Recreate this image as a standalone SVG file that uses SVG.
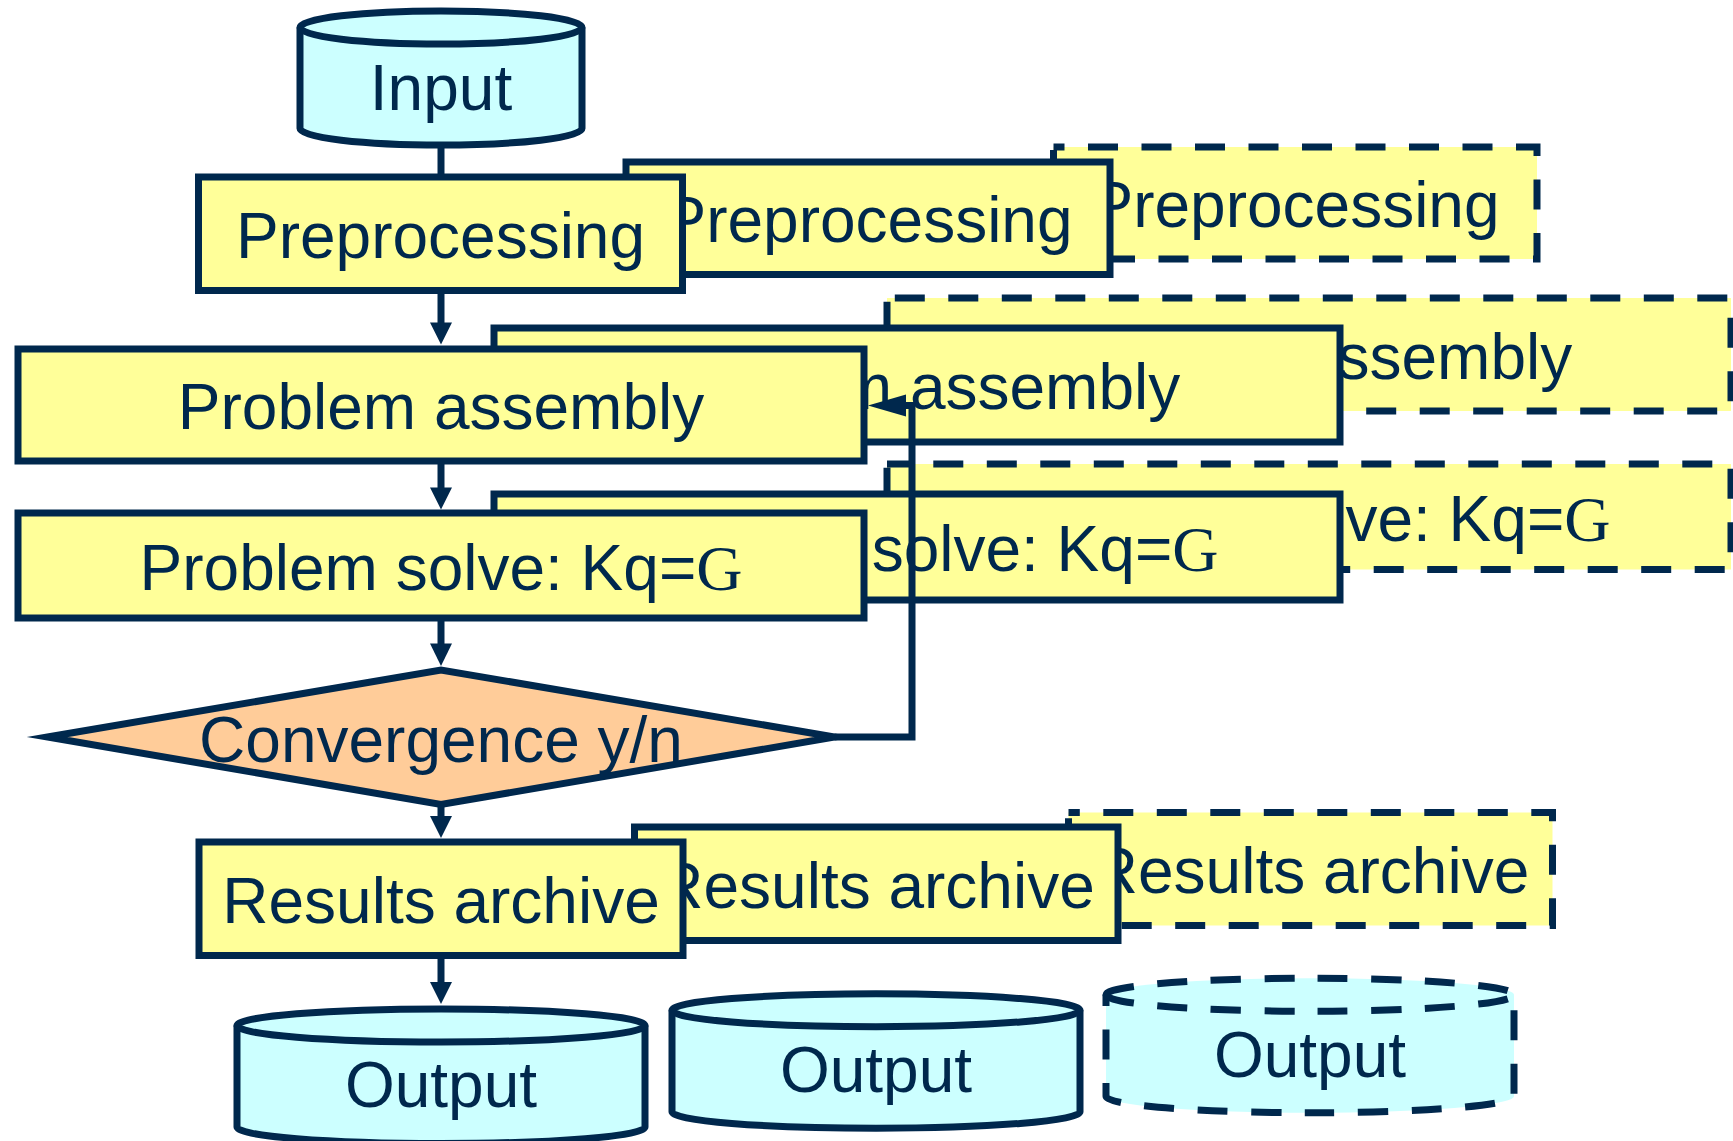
<svg xmlns="http://www.w3.org/2000/svg" width="1733" height="1141" viewBox="0 0 1733 1141">
<style>
.box{fill:#FFFF99;stroke:#00284D;stroke-width:7}
.cyl{fill:#CCFFFF;stroke:#00284D;stroke-width:7}
.arc{fill:none;stroke:#00284D;stroke-width:7}
.dia{fill:#FFCC99;stroke:#00284D;stroke-width:7;stroke-miterlimit:12}
.dash{stroke-dasharray:30 23.5}
.t{font-family:"Liberation Sans",Arial,sans-serif;font-size:64px;fill:#00284D;text-anchor:middle}
.g{font-family:"Liberation Serif","Times New Roman",serif}
.ln{fill:none;stroke:#00284D;stroke-width:7}
.ah{fill:#00284D}
</style>
<rect width="1733" height="1141" fill="#FFFFFF"/>
<g id="input">
<path class="cyl" d="M300,27.5 A141,16.5 0 0 1 582,27.5 V128.5 A141,16.5 0 0 1 300,128.5 Z"/>
<path class="arc" d="M300,27.5 A141,16.5 0 0 0 582,27.5"/>
<text class="t" x="441" y="109.5">Input</text>
</g>
<g id="preprocessing-3">
<rect class="box dash" style="stroke-dashoffset:19" x="1053.5" y="147" width="483.5" height="112"/>
<text class="t" x="1295" y="227">Preprocessing</text>
</g>
<g id="preprocessing-2">
<rect class="box" x="626" y="162" width="484" height="112.5"/>
<text class="t" x="868" y="242">Preprocessing</text>
</g>
<g id="preprocessing">
<rect class="box" x="198.5" y="177" width="484" height="113.5"/>
<text class="t" x="440.5" y="258">Preprocessing</text>
</g>
<g id="assembly-3">
<rect class="box dash" style="stroke-dashoffset:45.7" x="887" y="298" width="844" height="113"/>
<text class="t" x="1309" y="378.5">Problem assembly</text>
</g>
<g id="assembly-2">
<rect class="box" x="494" y="328" width="846" height="114"/>
<text class="t" x="917" y="409">Problem assembly</text>
</g>
<g id="assembly">
<rect class="box" x="18" y="349" width="846" height="112"/>
<text class="t" x="441" y="429">Problem assembly</text>
</g>
<g id="solve-3">
<rect class="box dash" style="stroke-dashoffset:7.2" x="887" y="464" width="844" height="105.5"/>
<text class="t" x="1309" y="540.5">Problem solve: Kq=<tspan class="g">G</tspan></text>
</g>
<g id="solve-2">
<rect class="box" x="494" y="494" width="846" height="106"/>
<text class="t" x="917" y="571">Problem solve: Kq=<tspan class="g">G</tspan></text>
</g>
<g id="solve">
<rect class="box" x="18" y="513" width="846" height="105"/>
<text class="t" x="441" y="589.5">Problem solve: Kq=<tspan class="g">G</tspan></text>
</g>
<g id="convergence">
<polygon class="dia" points="47.5,737 441,670 834.5,737 441,804.5"/>
<text class="t" x="441" y="762">Convergence y/n</text>
</g>
<g id="results-3">
<rect class="box dash" style="stroke-dashoffset:18.7" x="1068.5" y="812.5" width="484" height="113"/>
<text class="t" x="1310.5" y="892.5">Results archive</text>
</g>
<g id="results-2">
<rect class="box" x="634.5" y="827" width="483.5" height="113.5"/>
<text class="t" x="876" y="907.5">Results archive</text>
</g>
<g id="results">
<rect class="box" x="199" y="842" width="484" height="113.5"/>
<text class="t" x="441" y="923">Results archive</text>
</g>
<g id="output">
<path class="cyl" d="M237,1025.5 A204,16.5 0 0 1 645,1025.5 V1127 A204,16.5 0 0 1 237,1127 Z"/>
<path class="arc" d="M237,1025.5 A204,16.5 0 0 0 645,1025.5"/>
<text class="t" x="441" y="1106.5">Output</text>
</g>
<g id="output-2">
<path class="cyl" d="M672,1010.25 A204,16.5 0 0 1 1080,1010.25 V1111.75 A204,16.5 0 0 1 672,1111.75 Z"/>
<path class="arc" d="M672,1010.25 A204,16.5 0 0 0 1080,1010.25"/>
<text class="t" x="876" y="1091.5">Output</text>
</g>
<g id="output-3">
<path class="cyl dash" d="M1106,994.75 A204,16.5 0 0 1 1514,994.75 V1096.25 A204,16.5 0 0 1 1106,1096.25 Z"/>
<path class="arc dash" d="M1106,994.75 A204,16.5 0 0 0 1514,994.75"/>
<text class="t" x="1310" y="1076.5">Output</text>
</g>
<g id="connectors">
<path class="ln" d="M441,146 V177"/>
<path class="ln" d="M441,290.5 V323"/>
<polygon class="ah" points="441,344.5 430,322.5 452,322.5"/>
<path class="ln" d="M441,461 V488"/>
<polygon class="ah" points="441,509.5 430,487.5 452,487.5"/>
<path class="ln" d="M441,618 V644"/>
<polygon class="ah" points="441,666 430,643.5 452,643.5"/>
<path class="ln" d="M441,804.5 V817"/>
<polygon class="ah" points="441,838 430,816 452,816"/>
<path class="ln" d="M441,955.5 V983"/>
<polygon class="ah" points="441,1004 430,982 452,982"/>
<path class="ln" d="M834.5,737 H912 V405.5 H905"/>
<polygon class="ah" points="868,405.5 906,394.5 906,416.5"/>
</g>
</svg>
